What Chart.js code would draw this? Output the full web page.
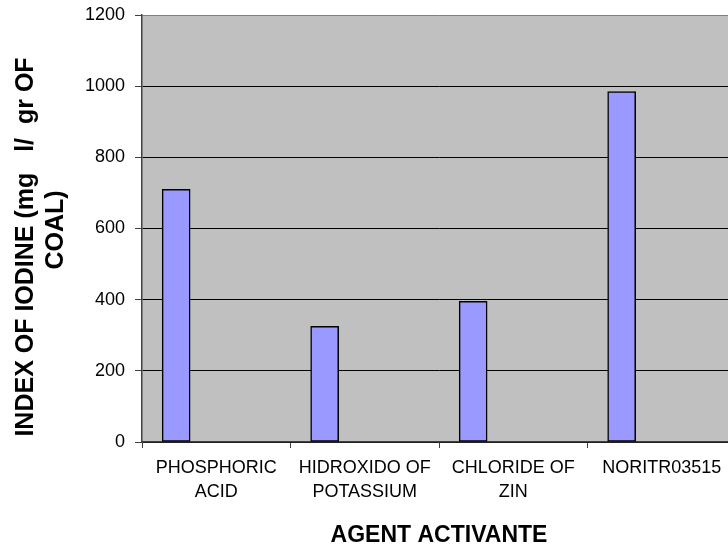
<!DOCTYPE html>
<html>
<head>
<meta charset="utf-8">
<script src="https://cdn.jsdelivr.net/npm/chart.js@4/dist/chart.umd.min.js"></script>
<style>
  html, body { margin: 0; padding: 0; background: #fff; overflow: hidden; }
  #wrap { width: 740px; height: 550px; }
</style>
</head>
<body>
<div id="wrap"><canvas id="c" width="740" height="550"></canvas></div>
<script>
// Activating agents and the iodine index measured for each
const categories = [
  ['PHOSPHORIC', 'ACID'],
  ['HIDROXIDO OF', 'POTASSIUM'],
  ['CHLORIDE OF', 'ZIN'],
  'NORITR03515'
];
const iodineIndex = [710, 325, 395, 985];
const yTicks = [0, 200, 400, 600, 800, 1000, 1200];
const xTitle = 'AGENT ACTIVANTE';
const yTitleLines = ['INDEX OF IODINE (mg   l/  gr OF', 'COAL)'];

const FONT = '"Liberation Sans", Arial, sans-serif';

// Grey plot background
const plotBackground = {
  id: 'plotBackground',
  beforeDraw(chart) {
    const { ctx, chartArea: a } = chart;
    ctx.save();
    ctx.fillStyle = '#C0C0C0';
    ctx.fillRect(a.left, a.top, a.right - a.left, a.bottom - a.top);
    ctx.restore();
  }
};

// Bars sit towards the left of each category slot
const barShift = {
  id: 'barShift',
  afterDatasetsUpdate(chart) {
    const x = chart.scales.x;
    const slot = (x.right - x.left) / categories.length;
    chart.getDatasetMeta(0).data.forEach(el => { el.x -= slot * 0.27; });
  }
};

// Axis titles
const axisTitles = {
  id: 'axisTitles',
  afterDraw(chart) {
    const { ctx } = chart;
    const x = chart.scales.x;
    ctx.save();
    ctx.fillStyle = '#000';
    ctx.textAlign = 'center';
    ctx.textBaseline = 'alphabetic';
    ctx.font = 'bold 23px ' + FONT;
    ctx.fillText(xTitle, (x.left + x.right) / 2, 542);

    ctx.font = 'bold 25px ' + FONT;
    const lineX = [33, 63];
    const lineY = [247, 230];
    yTitleLines.forEach((t, i) => {
      ctx.save();
      ctx.translate(lineX[i], lineY[i]);
      ctx.rotate(-Math.PI / 2);
      ctx.fillText(t, 0, 0);
      ctx.restore();
    });
    ctx.restore();
  }
};

new Chart(document.getElementById('c'), {
  type: 'bar',
  data: {
    labels: categories,
    datasets: [{
      data: iodineIndex,
      backgroundColor: '#9999FF',
      borderColor: '#000000',
      borderWidth: 1.5,
      borderSkipped: false,
      barThickness: 28
    }]
  },
  options: {
    responsive: false,
    animation: false,
    events: [],
    layout: { padding: { top: 15, right: 4, left: 0, bottom: 0 } },
    plugins: { legend: { display: false }, tooltip: { enabled: false } },
    scales: {
      x: {
        afterFit(s) { s.height = 108; },
        grid: {
          offset: true,
          drawOnChartArea: false,
          drawTicks: true,
          tickLength: 6,
          tickColor: '#404040',
          tickWidth: 1
        },
        border: { color: '#404040', width: 1.5 },
        ticks: {
          color: '#000',
          font: { family: FONT, size: 18, lineHeight: 1.33 },
          padding: 8,
          maxRotation: 0,
          autoSkip: false
        }
      },
      y: {
        min: 0,
        max: 1200,
        afterFit(s) { s.width = 142; s.paddingTop = 0; s.paddingBottom = 0; },
        afterBuildTicks(s) { s.ticks = yTicks.map(v => ({ value: v })); },
        grid: {
          color: ctx => (ctx.tick && ctx.tick.value === 1200 ? '#808080' : '#000000'),
          lineWidth: 1,
          drawTicks: true,
          tickLength: 7,
          tickColor: '#404040'
        },
        border: { color: '#404040', width: 1.5 },
        ticks: {
          color: '#000',
          font: { family: FONT, size: 18, lineHeight: 0.8 },
          padding: 10,
          callback: v => String(v)
        }
      }
    }
  },
  plugins: [plotBackground, barShift, axisTitles]
});
</script>
</body>
</html>
